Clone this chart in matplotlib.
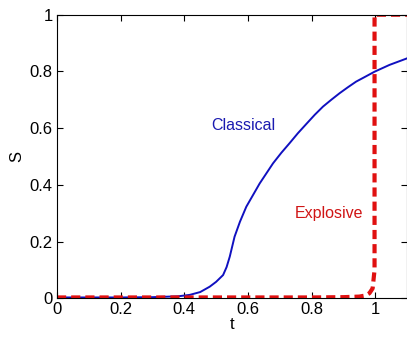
import matplotlib
matplotlib.use("Agg")
import matplotlib.pyplot as plt

plt.rcParams['font.family'] = ['Liberation Sans', 'DejaVu Sans']

t_classical = [0.0, 0.1, 0.2, 0.3, 0.38, 0.417, 0.45, 0.48, 0.5, 0.522, 0.533, 0.543, 0.558, 0.575, 0.595,
               0.637, 0.679, 0.705, 0.731, 0.757, 0.783, 0.81, 0.836, 0.862, 0.888, 0.914, 0.94, 0.97,
               0.998, 1.045, 1.1]
s_classical = [0.003, 0.003, 0.003, 0.004, 0.007, 0.012, 0.022, 0.041, 0.058, 0.082, 0.11, 0.147, 0.217, 0.27, 0.323,
               0.405, 0.476, 0.513, 0.547, 0.582, 0.614, 0.647, 0.676, 0.7, 0.723, 0.744, 0.764, 0.782,
               0.799, 0.823, 0.846]

t_explosive = [0.0, 0.2, 0.4, 0.6, 0.8, 0.9, 0.95, 0.97, 0.982, 0.992, 0.998, 0.998, 1.05, 1.1]
s_explosive = [0.003, 0.003, 0.003, 0.003, 0.003, 0.004, 0.006, 0.01, 0.018, 0.035, 0.1, 1.0, 1.0, 1.0]

fig = plt.figure(figsize=(4.07, 3.38), dpi=100)
ax = fig.add_axes([57/407, 1 - 298.3/338, (407 - 57)/407, (298.3 - 14.7)/338])

ax.plot(t_classical, s_classical, color='#1010c0', lw=1.4)
ax.plot(t_explosive, s_explosive, color='#e01010', lw=3, ls=(0, (2.2, 1.2)))

ax.set_xlim(0, 1.1)
ax.set_ylim(0, 1)
ax.set_xticks([0, 0.2, 0.4, 0.6, 0.8, 1])
ax.set_xticklabels(['0', '0.2', '0.4', '0.6', '0.8', '1'])
ax.set_yticks([0, 0.2, 0.4, 0.6, 0.8, 1])
ax.set_yticklabels(['0', '0.2', '0.4', '0.6', '0.8', '1'])
ax.tick_params(direction='in', top=True, right=True, labelsize=12, length=4, pad=3)
ax.set_xlabel('t', fontsize=12, labelpad=0)
ax.set_ylabel('S', fontsize=12, labelpad=4)

ax.text(0.585, 0.61, 'Classical', color='#1a1ab0', fontsize=11.5, ha='center', va='center')
ax.text(0.855, 0.30, 'Explosive', color='#d01515', fontsize=11.5, ha='center', va='center')

fig.savefig('out.png', dpi=100)
